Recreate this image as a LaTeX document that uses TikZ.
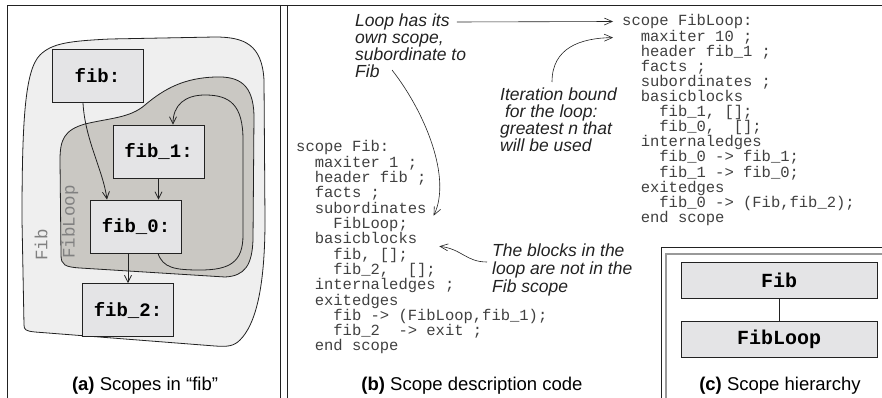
\documentclass[tikz,border=0pt]{standalone}
\usepackage{fontspec}
\setmainfont{Liberation Sans}
\setmonofont{Liberation Mono}
\usetikzlibrary{arrows.meta}

\definecolor{fibfill}{HTML}{EFEFEF}
\definecolor{loopfill}{HTML}{CAC8C3}
\definecolor{boxfill}{HTML}{E4E4E6}
\definecolor{edge}{HTML}{222222}
\definecolor{codeink}{HTML}{404040}
\definecolor{faint}{HTML}{808080}
\definecolor{rule}{HTML}{999999}

\tikzset{
  blk/.style={draw=edge, line width=0.8pt, fill=boxfill, minimum width=91pt,
    minimum height=53pt, inner sep=0pt,
    font=\fontsize{19}{19}\selectfont\ttfamily\bfseries},
  hbox/.style={draw=edge, line width=0.8pt, fill=boxfill, minimum width=196pt,
    minimum height=36pt, inner sep=0pt,
    font=\fontsize{20}{20}\selectfont\ttfamily\bfseries},
  flow/.style={draw=edge, line width=0.8pt, -{Straight Barb[length=7pt,width=7pt]}},
  note/.style={draw=edge, line width=0.6pt, -{Straight Barb[length=8pt,width=7pt]}},
  code/.style={inner sep=0pt, anchor=base west, text=codeink,
    text height=10pt, text depth=3pt,
    font=\fontsize{15.5}{15.5}\selectfont\ttfamily},
  remark/.style={inner sep=0pt, anchor=base west, text=edge,
    text height=11pt, text depth=3pt,
    font=\fontsize{17.5}{17.5}\selectfont\itshape},
  caption/.style={inner sep=0pt, anchor=base, text=black,
    font=\fontsize{18.5}{18.5}\selectfont},
  scopename/.style={text=faint, rotate=90, inner sep=0pt,
    font=\fontsize{17.5}{17.5}\selectfont\ttfamily},
  blob/.style={draw=edge, line width=0.8pt},
  frame/.style={draw=edge, line width=0.9pt},
}

\begin{document}
\begin{tikzpicture}[x=1pt, y=-1pt]
\useasboundingbox (0,0) rectangle (882,398);

% panel frames
\draw[frame] (7,398) -- (7,5) -- (882,5);
\draw[frame] (280,5) -- (280,398);
\draw[frame] (287,5) -- (287,398);
\draw[frame] (661,398) -- (661,247) -- (882,247);
\draw[rule, line width=2pt] (666,398) -- (666,254) -- (882,254);

% ---- (a) scopes drawn as nested regions
\draw[blob, fill=fibfill] (24,325) -- (22,220)
  .. controls (22,120) and (25,70) .. (40,55)
  .. controls (52,43) and (70,41) .. (110,39) -- (215,37)
  .. controls (245,37) and (262,45) .. (264,80) -- (265,220)
  .. controls (265,290) and (255,325) .. (240,340)
  .. controls (234,346) and (228,347) .. (215,346) -- (35,332)
  .. controls (26,331) and (24,330) .. cycle;
\draw[blob, fill=loopfill] (61,255) -- (60,160)
  .. controls (60,140) and (64,130) .. (85,124)
  .. controls (110,118) and (130,118) .. (145,105)
  .. controls (165,88) and (185,78) .. (215,77)
  .. controls (240,76) and (253,85) .. (254,115) -- (253,240)
  .. controls (252,265) and (245,276) .. (225,277) -- (80,268)
  .. controls (65,267) and (61,265) .. cycle;

\node[scopename] (fibname) at (41,245) {Fib};
\node[scopename] (loopname) at (70,222) {FibLoop};

\node[blk] (fib)  at (97.5,76)   {fib:};
\node[blk] (fib1) at (158.5,151.5) {fib\_1:};
\node[blk] (fib0) at (136,226.5) {fib\_0:};
\node[blk] (fib2) at (128,310)   {fib\_2:};

\draw[flow] ([xshift=-14.5pt]fib.south) .. controls (85,140) and (103,170) .. ([xshift=-29pt]fib0.north);
\draw[flow] (fib1.south) -- (fib1.south |- fib0.north);
\draw[flow] (fib2.north |- fib0.south) -- (fib2.north);
\draw[flow] ([xshift=22pt]fib0.south)
  .. controls (163,268) and (175,270) .. (200,270)
  .. controls (230,270) and (243,262) .. (243,235) -- (243,140)
  .. controls (243,105) and (230,95) .. (205,95)
  .. controls (185,95) and (173,105) .. ([xshift=14.5pt]fib1.north);

\node[caption] (capa) at (145,390) {\textbf{(a)} Scopes in “fib”};

% ---- (b) scope description code
\foreach \t [count=\i from 0] in {
  {scope Fib:}, {\ \ maxiter 1 ;}, {\ \ header fib ;}, {\ \ facts ;},
  {\ \ subordinates}, {\ \ \ \ FibLoop;}, {\ \ basicblocks},
  {\ \ \ \ fib, [];}, {\ \ \ \ fib\_2,\ \ [];}, {\ \ internaledges ;},
  {\ \ exitedges}, {\ \ \ \ fib -> (FibLoop,fib\_1);},
  {\ \ \ \ fib\_2\ \ -> exit ;}, {\ \ end scope}}
  \node[code] (fc\i) at (296,152+15.3*\i) {\t};

\foreach \t [count=\i from 0] in {
  {scope FibLoop:}, {\ \ maxiter 10 ;}, {\ \ header fib\_1 ;}, {\ \ facts ;},
  {\ \ subordinates ;}, {\ \ basicblocks}, {\ \ \ \ fib\_1, [];},
  {\ \ \ \ fib\_0,\ \ [];}, {\ \ internaledges}, {\ \ \ \ fib\_0 -> fib\_1;},
  {\ \ \ \ fib\_1 -> fib\_0;}, {\ \ exitedges},
  {\ \ \ \ fib\_0 -> (Fib,fib\_2);}, {\ \ end scope}}
  \node[code] (lc\i) at (622,26+15.1*\i) {\t};

\foreach \t [count=\i from 0] in {{Loop has its}, {own scope,}, {subordinate to}, {Fib}}
  \node[remark] (ra\i) at (355,27+16.8*\i) {\t};
\foreach \t [count=\i from 0] in {{Iteration bound}, {\ for the loop:}, {greatest n that}, {will be used}}
  \node[remark] (rb\i) at (500,101+16.8*\i) {\t};
\foreach \t [count=\i from 0] in {{The blocks in the}, {loop are not in the}, {Fib scope}}
  \node[remark] (rc\i) at (492,256+18*\i) {\t};

\coordinate (fromfib) at (392,70);
\coordinate (fromiter) at (552,82);
\coordinate (fromblocks) at (487,262);

\draw[note] ([xshift=7pt,yshift=1pt]ra0.east) -- ([xshift=-9pt,yshift=1pt]lc0.west);
\draw[note] (fromfib) .. controls (425,112) and (452,178) .. ([xshift=7pt,yshift=-6pt]fc4.east);
\draw[note] (fromiter) .. controls (552,48) and (580,38) .. ([xshift=-9pt]lc1.west);
\draw[note] (fromblocks) .. controls (466,262) and (462,249) .. ([xshift=22pt,yshift=-6pt]fc6.east);

\node[caption] (capb) at (472,390) {\textbf{(b)} Scope description code};

% ---- (c) scope hierarchy
\node[hbox] (hfib)  at (779,280) {Fib};
\node[hbox] (hloop) at (779,339) {FibLoop};
\draw[edge, line width=0.8pt] (hfib) -- (hloop);
\node[caption] (capc) at (780,390) {\textbf{(c)} Scope hierarchy};
\end{tikzpicture}
\end{document}
